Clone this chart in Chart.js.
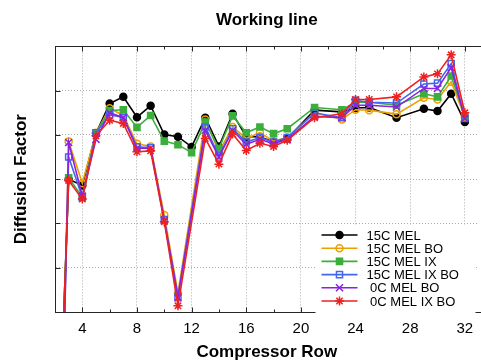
<!DOCTYPE html>
<html>
<head>
<meta charset="utf-8">
<script src="https://cdn.jsdelivr.net/npm/chart.js@4.4.1/dist/chart.umd.min.js"></script>
<style>
  html, body { margin: 0; padding: 0; background: #fff; overflow: hidden; }
  #wrap { width: 485px; height: 360px; }
</style>
</head>
<body>
<div id="wrap"><canvas id="working-line" width="485" height="360"></canvas></div>
<script>
// compressor rows (x) and diffusion factor per configuration (null = no point)
const rows = [2, 3, 4, 5, 6, 7, 8, 9, 10, 11, 12, 13, 14, 15, 16, 17, 18, 19, 21, 23, 24, 25, 27, 29, 30, 31, 32];

const mel15 = [-0.55, 0.300, 0.286, 0.404, 0.471, 0.486, 0.440, 0.466, 0.401, 0.396, 0.373, 0.439, 0.374, 0.448, 0.396, 0.396, 0.384, 0.392, 0.456, 0.452, 0.461, 0.462, 0.439, 0.459, 0.454, 0.493, 0.429];
const mel15Bo = [-0.90, 0.385, 0.291, 0.405, 0.460, 0.444, 0.380, 0.374, 0.219, 0.043, null, 0.435, 0.362, 0.418, 0.392, 0.405, 0.386, 0.394, 0.450, 0.435, 0.457, 0.456, 0.447, 0.484, 0.480, 0.520, 0.440];
const mel15Ix = [-0.55, 0.303, 0.260, 0.405, 0.455, 0.457, 0.417, 0.444, 0.386, 0.378, 0.360, 0.429, 0.369, 0.443, 0.405, 0.418, 0.403, 0.414, 0.462, 0.457, 0.474, 0.474, 0.467, 0.493, 0.486, 0.533, 0.443];
const mel15IxBo = [-0.90, 0.350, 0.259, 0.405, 0.445, 0.440, 0.373, 0.371, 0.209, 0.035, null, 0.418, 0.353, 0.414, 0.384, 0.394, 0.384, 0.394, 0.450, 0.439, 0.478, 0.474, 0.472, 0.515, 0.517, 0.561, 0.437];
const mel0Bo = [-0.95, 0.383, 0.262, 0.390, 0.450, 0.439, 0.370, 0.370, 0.207, 0.032, null, 0.410, 0.350, 0.410, 0.379, 0.390, 0.380, 0.390, 0.442, 0.439, 0.467, 0.467, 0.463, 0.505, 0.505, 0.552, 0.437];
const mel0IxBo = [-0.54, 0.297, 0.255, 0.398, 0.433, 0.426, 0.362, 0.364, 0.204, 0.014, null, 0.392, 0.334, 0.402, 0.365, 0.381, 0.374, 0.388, 0.439, 0.448, 0.480, 0.480, 0.486, 0.531, 0.538, 0.581, 0.450];

const seriesNames = ['15C MEL', '15C MEL BO', '15C MEL IX', '15C MEL IX BO', ' 0C MEL BO', ' 0C MEL IX BO'];
const xTicks = [4, 8, 12, 16, 20, 24, 28, 32];

const FONT = 'Liberation Sans, Arial, Helvetica, sans-serif';

document.addEventListener("DOMContentLoaded", () => {
  const allSeries = [mel15, mel15Bo, mel15Ix, mel15IxBo, mel0Bo, mel0IxBo];
  const styles = [
    { color: '#000000', point: 'circle', fill: '#000000', radius: 3.5 },
    { color: '#eba000', point: 'circle', fill: 'rgba(0,0,0,0)', radius: 3.5 },
    { color: '#3cae3c', point: 'rect', fill: '#3cae3c', radius: 4.3 },
    { color: '#4466ee', point: 'rect', fill: 'rgba(0,0,0,0)', radius: 4.3 },
    { color: '#8a22e0', point: 'crossRot', fill: 'rgba(0,0,0,0)', radius: 5 },
    { color: '#ee2020', point: 'star', fill: 'rgba(0,0,0,0)', radius: 4.5 }
  ];

  const datasets = allSeries.map((vals, i) => ({
    label: seriesNames[i],
    data: rows.map((r, k) => ({ x: r, y: vals[k] })).filter(p => p.y !== null),
    borderColor: styles[i].color,
    backgroundColor: styles[i].fill,
    pointStyle: styles[i].point,
    pointRadius: styles[i].radius,
    pointBorderColor: styles[i].color,
    pointBackgroundColor: styles[i].fill,
    pointBorderWidth: 1.5,
    borderWidth: 1.6,
    tension: 0,
    order: allSeries.length - i   // later series drawn on top
  }));

  // inward tick marks, axes box and the in-plot legend
  const decorations = {
    id: 'decorations',
    afterDatasetsDraw(chart) {
      const { ctx, chartArea: a, scales } = chart;
      const px = v => Math.round(v) + 0.5;
      ctx.save();
      ctx.strokeStyle = '#262626';
      ctx.lineWidth = 1;
      ctx.setLineDash([]);
      ctx.beginPath();
      ctx.moveTo(px(a.left), px(a.bottom));
      ctx.lineTo(a.right + 5, px(a.bottom));
      ctx.moveTo(px(a.left), px(a.bottom));
      ctx.lineTo(px(a.left), px(a.top));
      ctx.lineTo(a.right + 5, px(a.top));
      for (let v = 2; v <= 32; v += 2) {
        const xp = px(scales.x.getPixelForValue(v));
        const len = v % 4 === 0 ? 5 : 3;
        ctx.moveTo(xp, px(a.bottom)); ctx.lineTo(xp, px(a.bottom) - len);
        ctx.moveTo(xp, px(a.top)); ctx.lineTo(xp, px(a.top) + len);
      }
      scales.y.ticks.forEach(t => {
        const yp = px(scales.y.getPixelForValue(t.value));
        ctx.moveTo(px(a.left), yp); ctx.lineTo(px(a.left) + 5, yp);
      });
      ctx.stroke();
      ctx.restore();
    },
    afterDraw(chart) {
      const { ctx, chartArea: a } = chart;
      const x0 = a.right - 157, y0 = a.bottom - 77, rowH = 13.2;
      ctx.save();
      ctx.fillStyle = '#ffffff';
      ctx.fillRect(x0 - 6, y0 - 9, 160, 6 * rowH + 8);
      chart.data.datasets.forEach((ds, i) => {
        const y = y0 + i * rowH;
        ctx.strokeStyle = ds.borderColor;
        ctx.lineWidth = 1.6;
        ctx.setLineDash([]);
        ctx.beginPath();
        ctx.moveTo(x0, y); ctx.lineTo(x0 + 36, y);
        ctx.stroke();
        ctx.fillStyle = ds.pointBackgroundColor;
        ctx.lineWidth = 1.5;
        Chart.helpers.drawPoint(ctx, { pointStyle: ds.pointStyle, radius: ds.pointRadius, rotation: 0, borderWidth: 1.5 }, x0 + 18, y);
        ctx.fillStyle = '#000000';
        ctx.font = '13px ' + FONT;
        ctx.textBaseline = 'middle';
        ctx.textAlign = 'left';
        ctx.fillText(ds.label, x0 + 45, y + 1);
      });
      ctx.restore();
    }
  };

  const ctx = document.getElementById("working-line").getContext("2d");
  new Chart(ctx, {
    type: "line",
    data: { datasets: datasets },
    options: {
      responsive: false,
      animation: false,
      layout: { padding: 0 },
      plugins: {
        legend: { display: false },
        tooltip: { enabled: false },
        title: {
          display: true,
          fullSize: false,
          text: 'Working line',
          color: '#000',
          font: { family: FONT, size: 17, weight: 'bold' },
          padding: { top: 10, bottom: 16 }
        }
      },
      scales: {
        x: {
          type: 'linear',
          min: 2,
          max: 33,
          afterBuildTicks: s => { s.ticks = xTicks.map(v => ({ value: v })); },
          afterFit: s => { s.height = 48; },
          grid: { color: '#aaaaaa', lineWidth: 1, drawTicks: false },
          border: { display: true, color: '#262626', width: 1, dash: [1, 2] },
          ticks: { color: '#000', font: { family: FONT, size: 15 }, padding: 8, maxRotation: 0 },
          title: {
            display: true,
            text: 'Compressor Row',
            color: '#000',
            font: { family: FONT, size: 17, weight: 'bold' },
            padding: { top: -3, bottom: -3 }
          }
        },
        y: {
          min: 0,
          max: 0.6,
          afterFit: s => { s.width = 55; },
          grid: { color: '#aaaaaa', lineWidth: 1, drawTicks: false },
          border: { display: true, color: '#262626', width: 1, dash: [1, 2] },
          ticks: { display: false, stepSize: 0.1 },
          title: {
            display: true,
            text: 'Diffusion Factor',
            color: '#000',
            font: { family: FONT, size: 17, weight: 'bold' },
            padding: { top: 11, bottom: 0 }
          }
        }
      }
    },
    plugins: [decorations]
  });
});
</script>
</body>
</html>
